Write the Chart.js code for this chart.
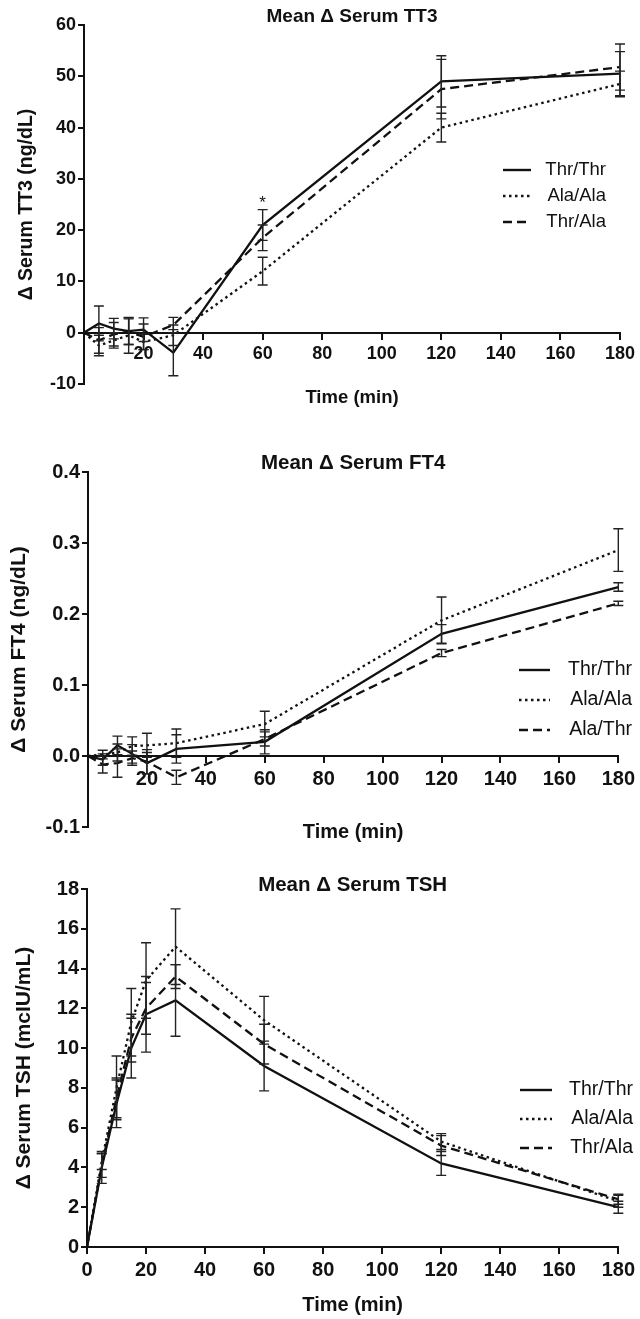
<!DOCTYPE html>
<html lang="en">
<head>
<meta charset="UTF-8">
<title>Mean Δ Serum TT3, FT4, TSH</title>
<script src="https://cdn.jsdelivr.net/npm/chart.js"></script>
<style>
  body { margin: 0; background: #fff; }
  .wrap { position: relative; width: 640px; height: 1319px; }
  .wrap canvas { position: absolute; left: 0; }
</style>
</head>
<body>
<div class="wrap">
  <canvas id="tt3" width="640" height="420" style="top:0"></canvas>
  <canvas id="ft4" width="640" height="440" style="top:420px"></canvas>
  <canvas id="tsh" width="640" height="459" style="top:860px"></canvas>
</div>
<script>
// sampling times (min)
const times = [0, 5, 10, 15, 20, 30, 60, 120, 180];

// TT3 (ng/dL)
const tt3Labels = ['Thr/Thr', 'Ala/Ala', 'Thr/Ala'];
const tt3ThrThr = [0, 1.8, 0.8, 0.3, 0.6, -3.9, 21, 49, 50.5];
const tt3AlaAla = [0, -2.5, -1.5, -0.5, -1.8, -0.5, 12, 40, 48.5];
const tt3ThrAla = [0, -1.5, -0.3, 0.2, -0.8, 1.5, 18.5, 47.5, 51.8];
const tt3ErrThrThr = [0, 3.4, 2, 2.6, 2.3, 4.5, 3, 5, 4.3];
const tt3ErrAlaAla = [0, 2, 1.5, 3.5, 1.5, 2, 2.7, 2.8, 2.5];
const tt3ErrThrAla = [0, 2.5, 2.3, 2.5, 2.5, 1.5, 2.5, 5.8, 4.5];
const tt3StarTimes = [60];
const tt3StarValues = [26.3];

// FT4 (ng/dL)
const ft4Labels = ['Thr/Thr', 'Ala/Ala', 'Ala/Thr'];
const ft4ThrThr = [0, -0.005, 0.015, 0.003, -0.01, 0.01, 0.02, 0.172, 0.238];
const ft4AlaAla = [0, 0.002, 0.005, 0.014, 0.015, 0.018, 0.045, 0.191, 0.29];
const ft4AlaThr = [0, -0.012, -0.01, -0.003, -0.008, -0.03, 0.024, 0.145, 0.215];
const ft4ErrThrThr = [0, 0.008, 0.013, 0.013, 0.015, 0.02, 0.017, 0.013, 0.006];
const ft4ErrAlaAla = [0, 0.006, 0.012, 0.013, 0.017, 0.02, 0.018, 0.033, 0.03];
const ft4ErrAlaThr = [0, 0.012, 0.02, 0.01, 0.017, 0.01, 0.01, 0.005, 0.003];

// TSH (mcIU/mL)
const tshLabels = ['Thr/Thr', 'Ala/Ala', 'Thr/Ala'];
const tshThrThr = [0, 4, 7.2, 10, 11.7, 12.4, 9.1, 4.2, 2.0];
const tshAlaAla = [0, 4.3, 8, 11.3, 13.4, 15.1, 11.4, 5.3, 2.3];
const tshThrAla = [0, 4.1, 7.5, 10.5, 12, 13.6, 10.2, 5.1, 2.4];
const tshErrThrThr = [0, 0.8, 1.2, 1.5, 1.9, 1.8, 1.25, 0.6, 0.3];
const tshErrAlaAla = [0, 0.4, 1.6, 1.7, 1.9, 1.9, 1.2, 0.4, 0.3];
const tshErrThrAla = [0, 0.6, 1.0, 1.2, 1.3, 0.6, 1.0, 0.5, 0.25];

// axis ranges [min, max, step]
const timeRange = [0, 180, 20];
const tt3Range = [-10, 60, 10];
const ft4Range = [-0.1, 0.4, 0.1];
const tshRange = [0, 18, 2];

const FONT = '"Liberation Sans", Arial, Helvetica, sans-serif';
const INK = '#111';
const dashes = [[], [2.5, 3.5], [9, 5]];

Chart.defaults.font.family = FONT;
Chart.defaults.color = INK;

// titles, legend, error bars, star
const panelPlugin = {
  id: 'panel',
  afterDatasetsDraw(chart) {
    const ctx = chart.ctx, xs = chart.scales.x, ys = chart.scales.y;
    ctx.save();
    ctx.strokeStyle = '#222';
    ctx.lineWidth = 1.4;
    ctx.setLineDash([]);
    chart.data.datasets.forEach(ds => {
      ds.data.forEach((p, i) => {
        const e = ds.errors[i];
        if (!e) return;
        const x = xs.getPixelForValue(p.x);
        const y1 = ys.getPixelForValue(p.y + e);
        const y2 = ys.getPixelForValue(p.y - e);
        ctx.beginPath();
        ctx.moveTo(x, y1); ctx.lineTo(x, y2);
        ctx.moveTo(x - 5, y1); ctx.lineTo(x + 5, y1);
        ctx.moveTo(x - 5, y2); ctx.lineTo(x + 5, y2);
        ctx.stroke();
      });
    });
    ctx.restore();
  },
  afterDraw(chart, args, o) {
    const ctx = chart.ctx, area = chart.chartArea;
    const cx = (area.left + area.right) / 2;
    ctx.save();
    ctx.fillStyle = INK;
    ctx.textAlign = 'center';
    ctx.textBaseline = 'middle';
    ctx.font = 'bold ' + o.titleSize + 'px ' + FONT;
    ctx.fillText(o.title, cx, o.titleY);
    ctx.font = 'bold ' + o.xTitleSize + 'px ' + FONT;
    ctx.fillText('Time (min)', cx, o.xTitleY);

    // legend
    const lg = o.legend;
    ctx.font = lg.size + 'px ' + FONT;
    ctx.textAlign = 'right';
    chart.data.datasets.forEach((ds, i) => {
      const y = lg.y + i * lg.gap;
      ctx.strokeStyle = INK;
      ctx.lineWidth = 2.4;
      ctx.setLineDash(ds.borderDash);
      ctx.beginPath();
      ctx.moveTo(lg.x1, y); ctx.lineTo(lg.x2, y);
      ctx.stroke();
      ctx.fillText(ds.label, lg.right, y);
    });

    // significance markers
    if (o.stars) {
      ctx.setLineDash([]);
      ctx.textAlign = 'center';
      ctx.textBaseline = 'alphabetic';
      ctx.font = '17px ' + FONT;
      o.stars.t.forEach((t, i) => {
        ctx.fillText('*', chart.scales.x.getPixelForValue(t), chart.scales.y.getPixelForValue(o.stars.v[i]) + 10);
      });
    }
    ctx.restore();
  }
};

function makePanel(id, labels, series, errs, yRange, cfg) {
  const datasets = series.map((vals, i) => ({
    label: labels[i],
    data: times.map((t, j) => ({ x: t, y: vals[j] })),
    errors: errs[i],
    borderColor: INK,
    borderWidth: 2.3,
    borderDash: dashes[i],
    pointRadius: 0,
    fill: false,
    tension: 0
  }));
  return new Chart(document.getElementById(id), {
    type: 'line',
    data: { datasets },
    plugins: [panelPlugin],
    options: {
      responsive: false,
      animation: false,
      layout: { padding: cfg.padding },
      scales: {
        x: {
          type: 'linear',
          position: { y: 0 },
          min: timeRange[0], max: timeRange[1],
          grid: { drawOnChartArea: false, drawTicks: true, tickLength: 6, color: INK, lineWidth: 2 },
          border: { color: INK, width: 2 },
          ticks: {
            stepSize: timeRange[2], padding: 5,
            font: { size: cfg.tickSize, weight: 'bold' },
            callback: v => (v === 0 && !cfg.showZero) ? '' : v
          }
        },
        y: {
          type: 'linear',
          position: 'left',
          min: yRange[0], max: yRange[1],
          afterFit: s => { s.width = cfg.yWidth; },
          grid: { drawOnChartArea: false, drawTicks: true, tickLength: 6, color: INK, lineWidth: 2 },
          border: { color: INK, width: 2 },
          ticks: {
            stepSize: yRange[2], padding: 2,
            font: { size: cfg.tickSize, weight: 'bold' },
            callback: v => cfg.decimals ? v.toFixed(cfg.decimals) : Math.round(v)
          },
          title: {
            display: true, text: cfg.yTitle,
            font: { size: cfg.yTitleSize, weight: 'bold' },
            padding: { top: cfg.yTitlePad, bottom: 0 }
          }
        }
      },
      plugins: {
        legend: { display: false },
        tooltip: { enabled: false },
        panel: cfg.panel
      }
    }
  });
}

makePanel('tt3', tt3Labels,
  [tt3ThrThr, tt3AlaAla, tt3ThrAla],
  [tt3ErrThrThr, tt3ErrAlaAla, tt3ErrThrAla],
  tt3Range, {
    padding: { left: 0, top: 25, right: 16, bottom: 36 },
    yWidth: 84, tickSize: 18, yTitle: 'Δ Serum TT3 (ng/dL)', yTitleSize: 19.5, yTitlePad: 15,
    panel: {
      title: 'Mean Δ Serum TT3', titleSize: 19, titleY: 17, xTitleSize: 18.5, xTitleY: 398,
      legend: { x1: 503, x2: 531, right: 606, y: 170, gap: 26, size: 18.5 },
      stars: { t: tt3StarTimes, v: tt3StarValues }
    }
  });

makePanel('ft4', ft4Labels,
  [ft4ThrThr, ft4AlaAla, ft4AlaThr],
  [ft4ErrThrThr, ft4ErrAlaAla, ft4ErrAlaThr],
  ft4Range, {
    padding: { left: 0, top: 52, right: 18, bottom: 33 },
    yWidth: 88, tickSize: 20, decimals: 1, yTitle: 'Δ Serum FT4 (ng/dL)', yTitleSize: 21, yTitlePad: 7,
    panel: {
      title: 'Mean Δ Serum FT4', titleSize: 20.5, titleY: 43, xTitleSize: 20, xTitleY: 412,
      legend: { x1: 519, x2: 550, right: 632, y: 250, gap: 30, size: 19.5 }
    }
  });

makePanel('tsh', tshLabels,
  [tshThrThr, tshAlaAla, tshThrAla],
  [tshErrThrThr, tshErrAlaAla, tshErrThrAla],
  tshRange, {
    padding: { left: 0, top: 29, right: 18, bottom: 72 },
    yWidth: 87, tickSize: 20, showZero: true, yTitle: 'Δ Serum TSH (mcIU/mL)', yTitleSize: 21, yTitlePad: 12,
    panel: {
      title: 'Mean Δ Serum TSH', titleSize: 20.5, titleY: 25, xTitleSize: 20, xTitleY: 445,
      legend: { x1: 520, x2: 552, right: 633, y: 230, gap: 29, size: 19.5 }
    }
  });
</script>
</body>
</html>
